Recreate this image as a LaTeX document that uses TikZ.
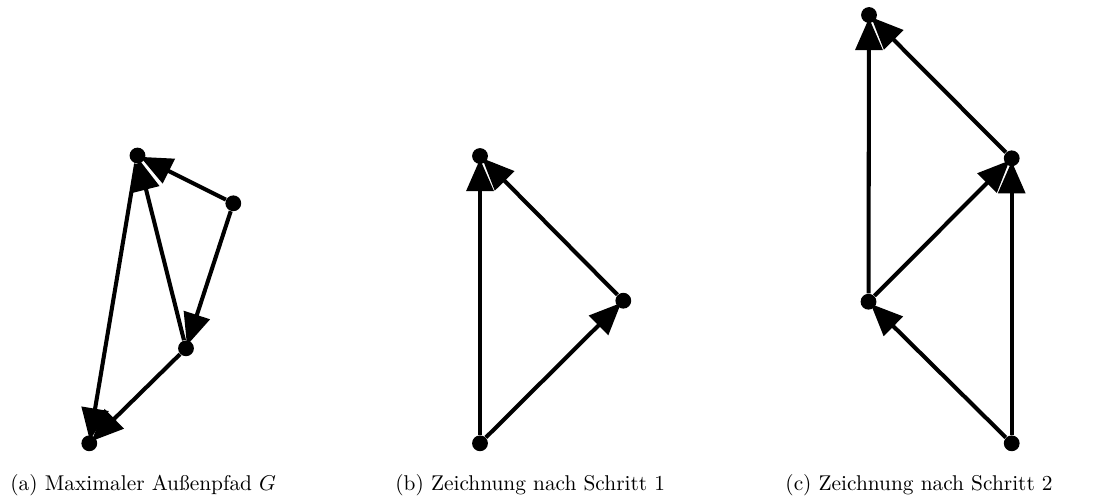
\documentclass[tikz,border=0pt]{standalone}
\usetikzlibrary{arrows.meta}
\begin{document}
\begin{tikzpicture}[x=0.468pt,y=-0.468pt,
  vtx/.style={circle,fill=black,inner sep=0pt,minimum size=7.4pt},
  edg/.style={line width=1.9pt,-{Triangle[length=15pt,width=12.5pt]},shorten >=-2.5pt},
  captxt/.style={anchor=base west,inner sep=0pt,font=\normalsize}]
\useasboundingbox (0,0) rectangle (1096,497);
% (a)
\node[vtx] (a1) at (137.5,155.5) {};
\node[vtx] (a2) at (233.3,203.3) {};
\node[vtx] (a3) at (186,348.3) {};
\node[vtx] (a4) at (89.3,443.3) {};
\draw[edg] (a2) -- (a1);
\draw[edg] (a2) -- (a3);
\draw[edg] (a3) -- (a1);
\draw[edg] (a1) -- (a4);
\draw[edg] (a3) -- (a4);
% (b)
\node[vtx] (b1) at (480,156) {};
\node[vtx] (b2) at (623.3,300.7) {};
\node[vtx] (b3) at (480,443.3) {};
\draw[edg] (b3) -- (b1);
\draw[edg] (b2) -- (b1);
\draw[edg] (b3) -- (b2);
% (c)
\node[vtx] (c1) at (869,15) {};
\node[vtx] (c2) at (1011.7,158.3) {};
\node[vtx] (c3) at (868.5,301.7) {};
\node[vtx] (c4) at (1011.7,443.3) {};
\draw[edg] (c3) -- (c1);
\draw[edg] (c2) -- (c1);
\draw[edg] (c3) -- (c2);
\draw[edg] (c4) -- (c2);
\draw[edg] (c4) -- (c3);
% captions
\node[captxt] (ca) at (10,490) {(a) Maximaler Außenpfad $G$};
\node[captxt] (cb) at (395,490) {(b) Zeichnung nach Schritt 1};
\node[captxt] (cc) at (785,490) {(c) Zeichnung nach Schritt 2};
\end{tikzpicture}
\end{document}
